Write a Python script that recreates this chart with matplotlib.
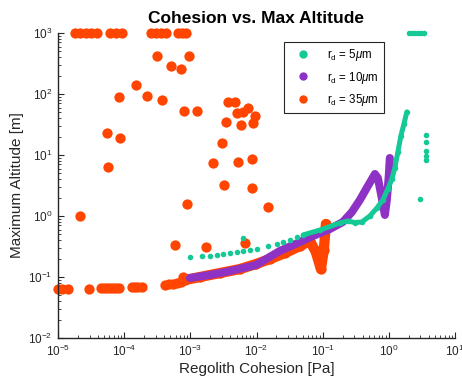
import matplotlib
matplotlib.use("Agg")
import matplotlib.pyplot as plt
from matplotlib.lines import Line2D
from matplotlib.ticker import LogLocator, NullFormatter

plt.rcParams['font.family'] = ['Liberation Sans', 'DejaVu Sans']
plt.rcParams['mathtext.fontset'] = 'custom'
plt.rcParams['mathtext.rm'] = 'Liberation Sans'
plt.rcParams['mathtext.it'] = 'Liberation Sans:italic'

# ---------------- data ----------------
# r_d = 35 um : points at the 1000 m ceiling
o_top_x = [1.81e-5, 2.15e-5, 2.65e-5, 3.15e-5, 3.88e-5, 6.09e-5, 7.52e-5, 9.27e-5,
           2.54e-4, 3.02e-4, 3.60e-4, 4.28e-4, 6.50e-4, 7.46e-4, 8.59e-4]
o_top_y = [1000] * len(o_top_x)
# r_d = 35 um : scattered points
o_sc_x = [2.15e-5, 5.44e-5, 5.75e-5, 8.34e-5, 8.64e-5, 1.49e-4, 2.23e-4, 3.16e-4,
          3.76e-4, 5.04e-4, 7.21e-4, 9.53e-4, 7.99e-4, 1.24e-3, 2.22e-3, 2.97e-3,
          3.45e-3, 3.70e-3, 4.72e-3, 7.50e-3, 5.00e-3, 6.30e-3, 9.46e-3, 5.75e-3,
          8.91e-3, 5.17e-3, 8.43e-3, 3.22e-3, 8.61e-3, 8.79e-4, 1.47e-2, 1.72e-3,
          6.68e-3, 5.85e-4, 7.82e-4]
o_sc_y = [1.0, 22.7, 6.4, 88, 19, 140, 93, 420,
          80, 291, 257, 415, 52.6, 52.6, 7.5, 15.9,
          35, 75, 75, 58.4, 48.3, 51.3, 43.6, 30.9,
          33.1, 7.8, 8.5, 3.2, 2.84, 1.56, 1.42, 0.307,
          0.357, 0.335, 0.101]
# r_d = 35 um : low-altitude baseline
o_base_x = [1.0e-5, 1.15e-5, 1.42e-5, 2.94e-5, 4.46e-5, 4.95e-5, 5.50e-5, 6.09e-5,
            6.78e-5, 7.52e-5, 8.34e-5, 1.31e-4, 1.46e-4, 1.61e-4, 1.86e-4,
            4.13e-4, 4.75e-4, 5.46e-4, 6.28e-4, 7.21e-4]
o_base_y = [0.0630, 0.0630, 0.0630, 0.0630, 0.0648, 0.0648, 0.0648, 0.0648,
            0.0648, 0.0648, 0.0648, 0.0673, 0.0673, 0.0673, 0.0673,
            0.0740, 0.0760, 0.0780, 0.0800, 0.0828]
# r_d = 35 um : dense curve
o_cur_x = [8.28e-4, 1.40e-3, 2.80e-3, 5.61e-3, 9.79e-3, 1.59e-2, 2.69e-2, 4.53e-2,
           6.41e-2, 7.89e-2, 9.40e-2, 0.104, 0.112]
o_cur_y = [0.0893, 0.100, 0.116, 0.135, 0.163, 0.197, 0.247, 0.322,
           0.389, 0.257, 0.135, 0.277, 0.74]

# r_d = 10 um : dense curve
p_x = [9.86e-4, 1.98e-3, 3.96e-3, 9.79e-3, 2.25e-2, 4.53e-2, 7.11e-2, 0.1286,
       0.202, 0.276, 0.365, 0.482, 0.616, 0.683, 0.783, 0.871, 0.933, 1.0, 1.035]
p_y = [0.0963, 0.108, 0.125, 0.157, 0.267, 0.375, 0.470, 0.612,
       0.798, 1.16, 1.83, 3.10, 4.88, 4.20, 1.97, 1.04, 1.83, 4.70, 8.93]

# r_d = 5 um : sparse points
g_sc_x = [9.86e-4, 1.48e-3, 1.98e-3, 2.49e-3, 3.14e-3, 3.96e-3, 5.00e-3, 6.30e-3,
          7.94e-3, 1.0e-2, 1.47e-2, 2.01e-2, 2.53e-2, 3.20e-2, 4.04e-2,
          6.30e-3, 3.62, 3.62, 3.62, 3.62, 3.62, 2.94,
          2.00, 2.22, 2.47, 2.74, 3.04, 3.38]
g_sc_y = [0.209, 0.217, 0.225, 0.231, 0.238, 0.245, 0.254, 0.269,
          0.277, 0.291, 0.322, 0.348, 0.379, 0.404, 0.448,
          0.44, 21.3, 16.3, 11.6, 9.6, 8.3, 1.87,
          1000, 1000, 1000, 1000, 1000, 1000]
# r_d = 5 um : dense curve
g_cur_x = [5.07e-2, 9.08e-2, 0.182, 0.240, 0.306, 0.391, 0.516, 0.659, 0.811,
           0.966, 1.11, 1.23, 1.37, 1.52, 1.69, 1.87]
g_cur_y = [0.489, 0.589, 0.767, 0.828, 0.782, 0.798, 1.0, 1.35, 1.83,
           2.77, 4.05, 6.12, 11.2, 20.5, 32.2, 50.7]

labels = [r'r$_\mathrm{d}$ = 5$\mu$m', r'r$_\mathrm{d}$ = 10$\mu$m', r'r$_\mathrm{d}$ = 35$\mu$m']
c_green = '#14C995'
c_purple = '#8E32C6'
c_orange = '#FF4500'

# ---------------- figure ----------------
fig = plt.figure(figsize=(4.62, 3.86), dpi=100)
ax = fig.add_axes([58/462, 48/386, 397/462, 305/386])

ms_o = 7.4
# orange
ax.plot(o_cur_x, o_cur_y, '-o', color=c_orange, lw=ms_o, ms=ms_o, mew=0,
        solid_capstyle='round', solid_joinstyle='round', zorder=2)
ax.plot(o_base_x, o_base_y, 'o', color=c_orange, ms=ms_o, mew=0, zorder=2, clip_on=False)
ax.plot(o_sc_x, o_sc_y, 'o', color=c_orange, ms=ms_o, mew=0, zorder=2, clip_on=False)
ax.plot(o_top_x, o_top_y, 'o', color=c_orange, ms=ms_o, mew=0, zorder=2, clip_on=False)
# purple
ax.plot(p_x, p_y, '-', color=c_purple, lw=5.8, solid_capstyle='round',
        solid_joinstyle='round', zorder=3)
# green
ax.plot(g_cur_x, g_cur_y, '-o', color=c_green, lw=3.6, ms=4.0, mew=0,
        solid_capstyle='round', solid_joinstyle='round', zorder=4)
ax.plot(g_sc_x, g_sc_y, 'o', color=c_green, ms=4.0, mew=0, zorder=4, clip_on=False)

ax.set_xscale('log')
ax.set_yscale('log')
ax.set_xlim(1e-5, 10)
ax.set_ylim(1e-2, 1e3)

ax.xaxis.set_major_locator(LogLocator(base=10, numticks=20))
ax.yaxis.set_major_locator(LogLocator(base=10, numticks=20))
ax.xaxis.set_minor_locator(LogLocator(base=10, subs=range(2, 10), numticks=20))
ax.yaxis.set_minor_locator(LogLocator(base=10, subs=range(2, 10), numticks=20))
ax.xaxis.set_minor_formatter(NullFormatter())
ax.yaxis.set_minor_formatter(NullFormatter())

for s in ['top', 'right']:
    ax.spines[s].set_visible(False)
for s in ['left', 'bottom']:
    ax.spines[s].set_linewidth(1.0)
    ax.spines[s].set_color('#262626')
ax.tick_params(which='both', direction='in', colors='#262626', labelsize=8.5)
ax.tick_params(which='major', length=4, width=0.8, pad=4)
ax.tick_params(which='minor', length=2.2, width=0.6)

ax.set_xlabel('Regolith Cohesion [Pa]', fontsize=11, color='#262626', labelpad=2)
ax.set_ylabel('Maximum Altitude [m]', fontsize=11, color='#262626', labelpad=3)
ax.set_title('Cohesion vs. Max Altitude', fontsize=12.5, fontweight='bold', pad=7)

handles = [Line2D([], [], ls='none', marker='o', color=c, ms=6, mew=0)
           for c in (c_green, c_purple, c_orange)]
leg = ax.legend(handles, labels, loc='upper left', bbox_to_anchor=(226/397, 1 - 9/305),
                borderaxespad=0, fontsize=8.3, frameon=True, fancybox=False,
                edgecolor='#262626', framealpha=1, borderpad=0.45, handletextpad=0.9,
                labelspacing=0.55, handlelength=2.4)
leg.get_frame().set_linewidth(0.8)

fig.savefig('out.png', dpi=100)
